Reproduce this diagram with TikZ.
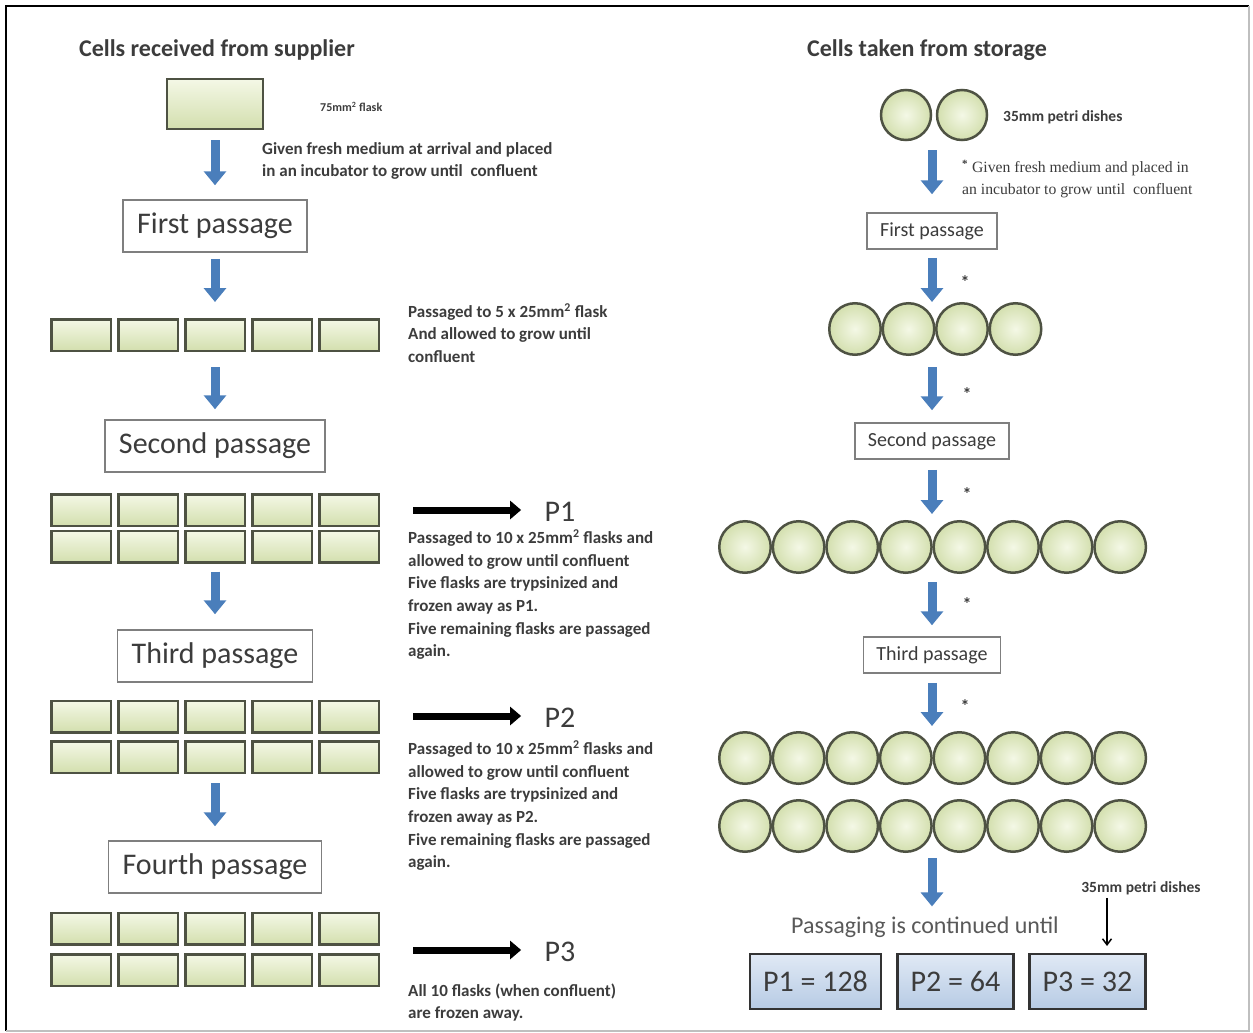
\documentclass[tikz,border=0pt]{standalone}
\usepackage{fontspec}
\setmainfont{Carlito}
\newfontfamily\serifnote{Liberation Serif}
\usepackage{tikz}
\usetikzlibrary{arrows.meta,positioning,calc}
\definecolor{flaskedge}{HTML}{4E5243}
\definecolor{flasktop}{HTML}{F4F8E6}
\definecolor{flaskbot}{HTML}{D3DFAE}
\definecolor{arrblue}{HTML}{4A7EBB}
\definecolor{txtgray}{HTML}{3C3C3C}
\definecolor{boxgray}{HTML}{7F7F7F}
\definecolor{restop}{HTML}{E0E9F5}
\definecolor{resbot}{HTML}{B7CBE4}

\begin{document}
\begin{tikzpicture}[x=1pt,y=-1pt,text=txtgray,
  flask/.style={draw=flaskedge,line width=2.5pt,top color=flasktop,bottom color=flaskbot,minimum width=59.5pt,minimum height=31.5pt,inner sep=0pt},
  dish/.style={circle,draw=flaskedge,line width=2.5pt,inner color=flasktop,outer color=flaskbot,minimum size=51.5pt,inner sep=0pt},
  pbox/.style={draw=boxgray,line width=1.5pt,fill=white,minimum height=52pt,inner xsep=14pt,font=\fontsize{30}{36}\selectfont},
  sbox/.style={pbox,minimum height=36pt,inner xsep=13pt,font=\fontsize{20}{24}\selectfont},
  rbox/.style={draw=black!80,line width=2.5pt,top color=restop,bottom color=resbot,minimum height=55pt,inner xsep=13pt,font=\fontsize{30}{36}\selectfont},
  note/.style={anchor=west,align=left,inner sep=0pt,font=\bfseries\fontsize{17}{22.6}\selectfont},
  small/.style={anchor=west,inner sep=0pt,font=\bfseries\fontsize{15.5}{17}\selectfont},
  title/.style={font=\bfseries\fontsize{24}{28}\selectfont},
  plab/.style={font=\fontsize{30}{36}\selectfont},
  star/.style={inner sep=0pt,font=\bfseries\fontsize{18}{18}\selectfont},
  barr/.style={draw=arrblue,line width=9pt,-{Triangle[width=22pt,length=14pt]}},
  karr/.style={draw=black,line width=7pt,-{Triangle[width=18pt,length=11pt]}}
]
\useasboundingbox (0,0) rectangle (1253,1033);
\draw[black,line width=2pt] (6,1031) -- (6,6) -- (1249,6);
\draw[black!25,line width=1.5pt] (1249,6) -- (1249,1031) -- (6,1031);

% supplier side
\node[title] (tl) at (217,50) {Cells received from supplier};
\node[flask,minimum width=96pt,minimum height=50pt] (f0) at (215,104) {};
\node[small,font=\bfseries\fontsize{12}{14}\selectfont] (flab) at (320,107) {75mm\textsuperscript{2} flask};
\node[note] (give) at (262,161) {Given fresh medium at arrival and placed\\in an incubator to grow until\ \ confluent};

\node[pbox] (pas1) at (215,226) {First passage};
\node[pbox] (pas2) at (215,446) {Second passage};
\node[pbox] (pas3) at (215,656) {Third passage};
\node[pbox] (pas4) at (215,867) {Fourth passage};

\foreach \row/\y in {1/335,2a/510,2b/546.5,3a/716.5,3b/757,4a/928.5,4b/970}
  \foreach \i in {1,...,5}
    \node[flask] (r\row-\i) at ({81+67*(\i-1)},\y) {};

\draw[barr,shorten <=10pt,shorten >=14pt] (f0) -- (pas1);
\draw[barr,shorten <=6pt,shorten >=16pt] (pas1) -- (r1-3);
\draw[barr,shorten <=15pt,shorten >=10pt] (r1-3) -- (pas2);
\draw[barr,shorten <=8pt,shorten >=15pt] (r2b-3) -- (pas3);
\draw[barr,shorten <=9pt,shorten >=14pt] (r3b-3) -- (pas4);

\node[note] (pass5) at (408,333) {Passaged to 5 x 25mm\textsuperscript{2} flask\\And allowed to grow until\\confluent};

\node[plab] (p1) at (560,512) {P1};
\node[plab] (p2) at (560,718) {P2};
\node[plab] (p3) at (560,952) {P3};
\coordinate (k1) at (413,510);
\coordinate (k2) at (413,716);
\coordinate (k3) at (413,950);
\draw[karr,shorten >=20pt] (k1) -- (k1 -| p1.west);
\draw[karr,shorten >=20pt] (k2) -- (k2 -| p2.west);
\draw[karr,shorten >=20pt] (k3) -- (k3 -| p3.west);

\node[note] (p1txt) at (408,594.5) {Passaged to 10 x 25mm\textsuperscript{2} flasks and\\allowed to grow until confluent\\Five flasks are trypsinized and\\frozen away as P1.\\Five remaining flasks are passaged\\again.};
\node[note] (p2txt) at (408,805.5) {Passaged to 10 x 25mm\textsuperscript{2} flasks and\\allowed to grow until confluent\\Five flasks are trypsinized and\\frozen away as P2.\\Five remaining flasks are passaged\\again.};
\node[note] (p3txt) at (408,1002.5) {All 10 flasks (when confluent)\\are frozen away.};

% storage side
\node[title] (tr) at (927,50) {Cells taken from storage};
\node[dish,minimum size=50pt] (d0-1) at (906,115) {};
\node[dish,minimum size=50pt] (d0-2) at (962,115) {};
\node[small] (dlab) at (1003,117) {35mm petri dishes};
\node[anchor=west,align=left,inner sep=0pt,font=\serifnote\fontsize{15.7}{22}\selectfont] (giveR) at (962,179)
  {\textsuperscript{\bfseries *} Given fresh medium and placed in\\an incubator to grow until\ \ confluent};

\node[sbox] (spass1) at (932,231) {First passage};
\node[sbox] (spass2) at (932,441) {Second passage};
\node[sbox] (spass3) at (932,655) {Third passage};

\foreach \i in {1,...,4}
  \node[dish] (c1-\i) at ({855+53.5*(\i-1)},329) {};
\foreach \row/\y in {2/547,3/758,4/826}
  \foreach \i in {1,...,8}
    \node[dish] (c\row-\i) at ({745+53.6*(\i-1)},\y) {};

\node[font=\fontsize{24}{28}\selectfont,text=txtgray!85,inner sep=0pt] (cont) at (925,927) {Passaging is continued until};

\draw[barr,shorten <=9pt,shorten >=18pt] (spass1.north |- d0-1.south) -- (spass1);
\draw[barr,shorten <=8pt] (spass1) -- (spass1.south |- c1-2.north);
\draw[barr,shorten <=11pt,shorten >=12pt] (spass2.north |- c1-2.south) -- (spass2);
\draw[barr,shorten <=10pt,shorten >=6pt] (spass2) -- (spass2.south |- c2-4.north);
\draw[barr,shorten <=8pt,shorten >=11pt] (spass3.north |- c2-4.south) -- (spass3);
\draw[barr,shorten <=9pt,shorten >=5pt] (spass3) -- (spass3.south |- c3-4.north);
\draw[barr,shorten <=5pt,shorten >=10pt] (spass3.south |- c4-4.south) -- (spass3.south |- cont.north);

\node[star] (s1) at (965,282) {*};
\node[star] (s2) at (967,394) {*};
\node[star] (s3) at (967,494) {*};
\node[star] (s4) at (967,604) {*};
\node[star] (s5) at (965,706) {*};

\node[rbox] (res1) at (815.5,981.5) {P1 = 128};
\node[rbox] (res2) at (955.5,981.5) {P2 = 64};
\node[rbox] (res3) at (1087.5,981.5) {P3 = 32};

\node[small,anchor=center] (dlab2) at (1141,888) {35mm petri dishes};
\coordinate (dtip) at (1107,946);
\draw[line width=1.5pt,-{Straight Barb[length=6pt,width=9pt]}] (dtip |- dlab2.south) ++(0,3) -- (dtip);
\end{tikzpicture}
\end{document}
